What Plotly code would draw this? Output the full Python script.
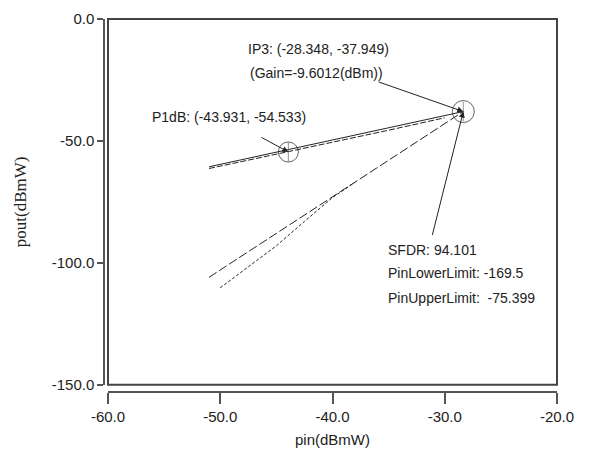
import plotly.graph_objects as go

# ---- data ----
x_ticks = [-60, -50, -40, -30, -20]
x_tick_labels = ["-60.0", "-50.0", "-40.0", "-30.0", "-20.0"]
y_ticks = [0, -50, -100, -150]
y_tick_labels = ["0.0", "-50.0", "-100.0", "-150.0"]

ip3_x, ip3_y = -28.348, -37.949
p1db_x, p1db_y = -43.931, -54.533

# extrapolated slope-1 and slope-3 lines to IP3
fund_ext_x = [-51.0, -28.348]
fund_ext_y = [-60.6, -37.949]
im3_ext_x = [-51.0, -28.348]
im3_ext_y = [-105.9, -37.949]

# measured curves
fund_meas_x = [-51.0, -48.0, -45.0, -43.931, -40.0, -35.0, -30.0]
fund_meas_y = [-61.3, -58.4, -55.5, -54.533, -50.6, -45.6, -40.5]
im3_meas_x = [-50.0, -47.5, -45.0, -42.5, -40.0, -38.0]
im3_meas_y = [-110.2, -101.5, -93.0, -83.0, -73.2, -67.0]

ink = "#222222"
axis_col = "#555555"
font = dict(family="Liberation Sans, Arial, sans-serif", size=14, color="#222222")

fig = go.Figure()
fig.add_trace(go.Scatter(x=fund_ext_x, y=fund_ext_y, mode="lines",
                         line=dict(color=ink, width=1)))
fig.add_trace(go.Scatter(x=fund_meas_x, y=fund_meas_y, mode="lines",
                         line=dict(color=ink, width=1, dash="6px,2px")))
fig.add_trace(go.Scatter(x=im3_ext_x, y=im3_ext_y, mode="lines",
                         line=dict(color=ink, width=1, dash="9px,3px")))
fig.add_trace(go.Scatter(x=im3_meas_x, y=im3_meas_y, mode="lines",
                         line=dict(color=ink, width=1, dash="3px,2px")))
# markers at P1dB and IP3
fig.add_trace(go.Scatter(x=[p1db_x, ip3_x], y=[p1db_y, ip3_y], mode="markers",
                         marker=dict(symbol="circle-open", size=[20, 22],
                                     color=ink, line=dict(width=1, color=ink))))
fig.add_trace(go.Scatter(x=[p1db_x, ip3_x], y=[p1db_y, ip3_y], mode="markers",
                         marker=dict(symbol="line-ns-open", size=[14, 14],
                                     color="#666666", line=dict(width=1, color="#666666"))))

annots = []
def arrow(hx, hy, tx, ty):
    annots.append(dict(x=hx, y=hy, ax=tx, ay=ty, xref="x", yref="y", axref="x", ayref="y",
                       text="", showarrow=True, arrowhead=2, arrowsize=1.2, arrowwidth=1,
                       arrowcolor=ink, standoff=0))

def label(tx, x, y):
    annots.append(dict(x=x, y=y, xref="x", yref="y", text=tx, showarrow=False,
                       xanchor="left", yanchor="middle", font=font))

arrow(ip3_x, ip3_y, -36.04, -25.56)
arrow(p1db_x, p1db_y, -46.46, -48.2)
arrow(ip3_x, ip3_y, -31.14, -89.2)

label("IP3: (-28.348, -37.949)", -47.71, -12.15)
label("(Gain=-9.6012(dBm))", -47.53, -22.2)
label("P1dB: (-43.931, -54.533)", -56.26, -40.2)
label("SFDR: 94.101", -35.23, -94.7)
label("PinLowerLimit: -169.5", -35.23, -104.3)
label("PinUpperLimit:\u00a0 -75.399", -35.23, -114.4)

# page body has an 8px default margin; size the figure so it ends at the window edge
fig.update_layout(
    width=583, height=443,
    margin=dict(l=96, r=34, t=11, b=59),
    paper_bgcolor="white", plot_bgcolor="white",
    showlegend=False,
    annotations=annots,
    shapes=[dict(type="rect", xref="x domain", yref="y domain", x0=0, x1=1, y0=0, y1=1,
                 line=dict(color="#444444", width=2))],
    xaxis=dict(domain=[4 / 453, 1], range=[-60, -20], anchor="free", position=0,
               automargin=False,
               showline=True, linecolor=axis_col, linewidth=1.5,
               ticks="outside", ticklen=11, tickwidth=1.5, tickcolor=axis_col,
               tickvals=x_ticks, ticktext=x_tick_labels, tickfont=dict(font, size=15),
               showgrid=False, zeroline=False,
               title=dict(text="pin(dBmW)", font=dict(font, size=15), standoff=10)),
    yaxis=dict(domain=[7 / 365, 1], range=[-150, 0], anchor="free", position=0,
               automargin=False,
               showline=True, linecolor=axis_col, linewidth=1.5,
               ticks="outside", ticklen=6, tickwidth=1.5, tickcolor=axis_col,
               tickvals=y_ticks, ticktext=y_tick_labels, tickfont=dict(font, size=15),
               showgrid=False, zeroline=False,
               title=dict(text="pout(dBmW)",
                          font=dict(family="Liberation Serif, Times New Roman, serif",
                                    size=17, color="#222222"), standoff=20)),
)

fig.write_html("out.html")
